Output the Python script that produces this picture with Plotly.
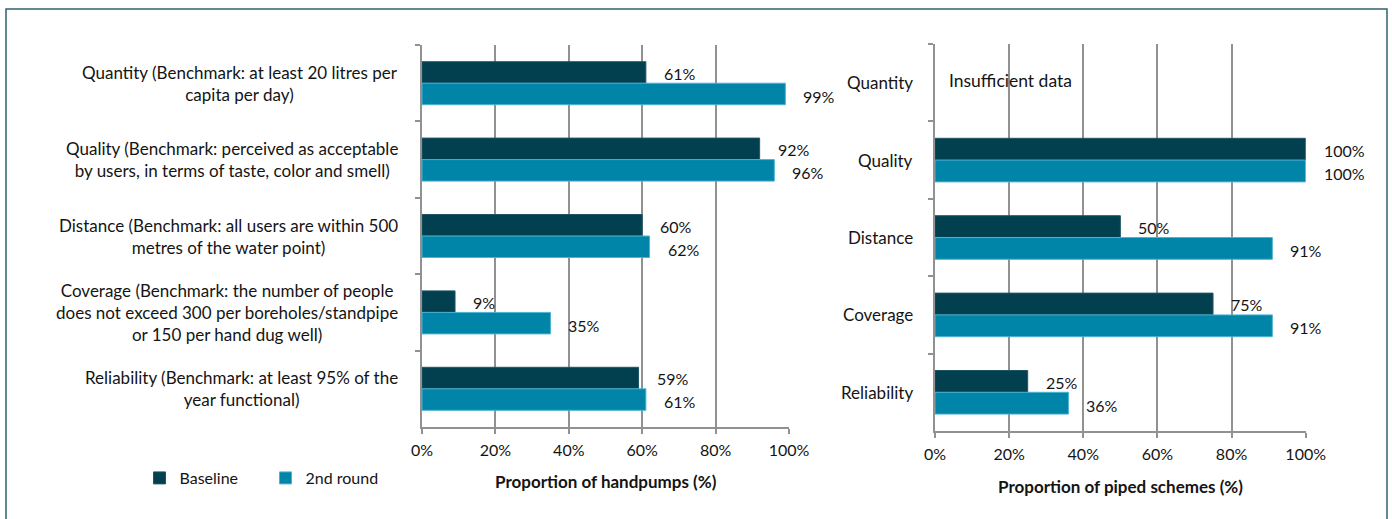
import plotly.graph_objects as go

# ---------------- data ----------------
categories = ["Quantity", "Quality", "Distance", "Coverage", "Reliability"]
handpump_labels = [
    "Quantity (Benchmark: at least 20 litres per<br>capita per day)",
    "Quality (Benchmark: perceived as acceptable<br>by users, in terms of taste, color and smell)",
    "Distance (Benchmark: all users are within 500<br>metres of the water point)",
    "Coverage (Benchmark: the number of people<br>does not exceed 300 per boreholes/standpipe<br>or 150 per hand dug well)",
    "Reliability (Benchmark: at least 95% of the<br>year functional)",
]
piped_labels = ["Quantity", "Quality", "Distance", "Coverage", "Reliability"]
handpump_baseline = [61, 92, 60, 9, 59]
handpump_round2 = [99, 96, 62, 35, 61]
piped_baseline = [None, 100, 50, 75, 25]
piped_round2 = [None, 100, 91, 91, 36]
series_names = ["Baseline", "2nd round"]
x_ticks = [0, 20, 40, 60, 80, 100]
x_ticktext = ["0%", "20%", "40%", "60%", "80%", "100%"]
x_titles = ["Proportion of handpumps (%)", "Proportion of piped schemes (%)"]
no_data_note = "Insufficient data"

# ---------------- style ----------------
W, H = 1392, 519
FONT = "Lato"
TXT = "#141414"
C_BASE = "#02404F"
C_R2 = "#0084A8"
GRID = "#919191"


def px(x):
    return x / W


def py(y):
    return 1 - y / H


fig = go.Figure()

for xa, ya, base, r2, show in [("x", "y", handpump_baseline, handpump_round2, True),
                               ("x2", "y2", piped_baseline, piped_round2, False)]:
    fig.add_trace(go.Bar(y=categories, x=base, orientation="h", name=series_names[0],
                         marker=dict(color=C_BASE, line=dict(color="#1f5666", width=1)),
                         xaxis=xa, yaxis=ya, showlegend=show, legendgroup="b"))
    fig.add_trace(go.Bar(y=categories, x=r2, orientation="h", name=series_names[1],
                         marker=dict(color=C_R2, line=dict(color="#4db3d1", width=1)),
                         xaxis=xa, yaxis=ya, showlegend=show, legendgroup="r"))

annotations = []
# data labels
for xa, ya, base, r2 in [("x", "y", handpump_baseline, handpump_round2),
                         ("x2", "y2", piped_baseline, piped_round2)]:
    for cat, v in zip(categories, base):
        if v is not None:
            annotations.append(dict(x=v, y=cat, xref=xa, yref=ya, text=f"{v}%", showarrow=False,
                                    xanchor="left", yanchor="middle", xshift=16, yshift=10,
                                    font=dict(family=FONT, size=16, color=TXT)))
    for cat, v in zip(categories, r2):
        if v is not None:
            annotations.append(dict(x=v, y=cat, xref=xa, yref=ya, text=f"{v}%", showarrow=False,
                                    xanchor="left", yanchor="middle", xshift=16, yshift=-13,
                                    font=dict(family=FONT, size=16, color=TXT)))

# category labels
for cat, lab in zip(categories, handpump_labels):
    annotations.append(dict(x=px(400), y=cat, xref="paper", yref="y", text=lab, showarrow=False,
                            xanchor="right", yanchor="middle", align="center",
                            font=dict(family=FONT, size=17, color=TXT)))
for cat, lab in zip(categories, piped_labels):
    annotations.append(dict(x=px(915), y=cat, xref="paper", yref="y2", text=lab, showarrow=False,
                            xanchor="right", yanchor="middle", align="right",
                            font=dict(family=FONT, size=17, color=TXT)))

annotations.append(dict(x=0, y=categories[0], xref="x2", yref="y2", text=no_data_note, showarrow=False,
                        xanchor="left", yanchor="middle", xshift=12, yshift=2,
                        font=dict(family=FONT, size=17.5, color=TXT)))

# axis titles
annotations.append(dict(x=px(605.5), y=py(481.7), xref="paper", yref="paper", text=f"<b>{x_titles[0]}</b>",
                        showarrow=False, xanchor="center", yanchor="middle",
                        font=dict(family=FONT, size=17, color=TXT)))
annotations.append(dict(x=px(1120.5), y=py(486.7), xref="paper", yref="paper", text=f"<b>{x_titles[1]}</b>",
                        showarrow=False, xanchor="center", yanchor="middle",
                        font=dict(family=FONT, size=17, color=TXT)))

xcommon = dict(range=[0, 100], tickmode="array", tickvals=x_ticks, ticktext=x_ticktext,
               showgrid=True, gridcolor=GRID,
               gridwidth=2, showline=True, linecolor=GRID, linewidth=2, ticks="outside", ticklen=5,
               tickwidth=1.5, tickcolor=GRID, zeroline=False, ticklabelstandoff=3,
               tickfont=dict(family=FONT, size=16, color=TXT), fixedrange=True)
ycommon = dict(type="category", categoryorder="array", categoryarray=categories, autorange="reversed",
               showline=True, linecolor=GRID, linewidth=2, ticks="outside", tickson="boundaries",
               ticklen=5, tickwidth=1.5, tickcolor=GRID, showticklabels=False, showgrid=False,
               zeroline=False, fixedrange=True)

fx0, fx1, fy = px(6), px(1387), py(9)
frame_path = f"M {fx0},0 L {fx0},{fy} L {fx1},{fy} L {fx1},0"

fig.update_layout(
    width=W, height=H, autosize=False,
    margin=dict(l=0, r=0, t=0, b=0, autoexpand=False),
    paper_bgcolor="white", plot_bgcolor="white",
    barmode="group", bargap=0.437, bargroupgap=0,
    font=dict(family=FONT, size=16, color=TXT),
    xaxis=dict(domain=[px(422), px(789)], anchor="y", **xcommon),
    yaxis=dict(domain=[py(427), py(45)], anchor="x", **ycommon),
    xaxis2=dict(domain=[px(935), px(1305.7)], anchor="y2", **xcommon),
    yaxis2=dict(domain=[py(431), py(44)], anchor="x2", **ycommon),
    legend=dict(orientation="h", x=px(139.5), y=py(478), xanchor="left", yanchor="middle",
                font=dict(family=FONT, size=16, color=TXT), bgcolor="rgba(0,0,0,0)",
                entrywidth=81, itemclick=False, itemdoubleclick=False),
    annotations=annotations,
    shapes=[dict(type="path", xref="paper", yref="paper", path=frame_path,
                 line=dict(color="#2f6170", width=1.5), layer="below")],
)

fig.write_html("out.html", config={"responsive": False, "displayModeBar": False})
